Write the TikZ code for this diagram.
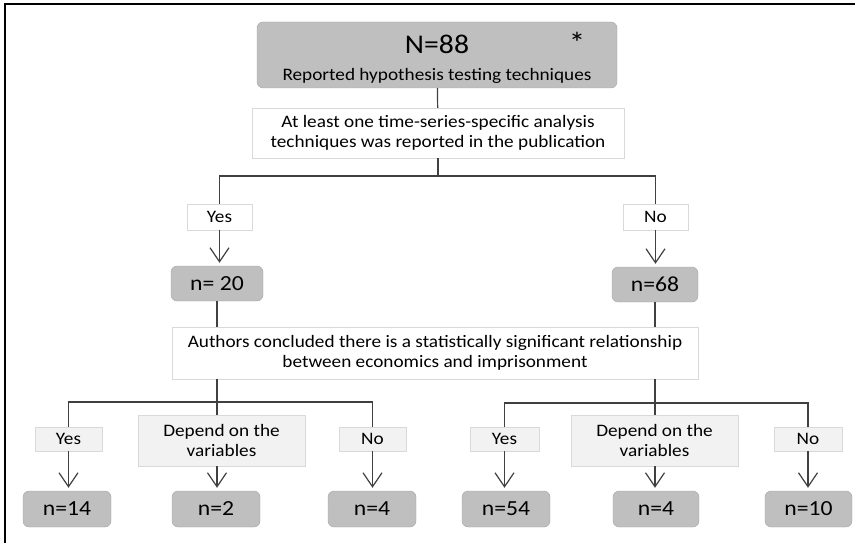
\documentclass[tikz,border=0pt]{standalone}
\usepackage{fontspec}
\setmainfont{Carlito}[FakeStretch=1.1]
\usetikzlibrary{arrows.meta}
\tikzset{
	numbox/.style={draw=black!35, fill=black!25, rounded corners=6pt, inner sep=0pt, font=\fontsize{21.5}{25}\selectfont},
	askbox/.style={draw=black!15, fill=white, align=center, inner sep=0pt, font=\fontsize{17.5}{20}\selectfont},
	ansbox/.style={draw=black!15, fill=black!5, align=center, inner sep=0pt, font=\fontsize{17.5}{20}\selectfont},
	link/.style={draw=black!75, line width=1.2pt},
	flow/.style={link, -{Straight Barb[length=14pt,width=19pt]}, shorten >=3pt},
}

\begin{document}
\begin{tikzpicture}[x=1pt, y=-1pt]
			%%%%% START %%%%%
			\useasboundingbox (0,0) rectangle (863,543);
			
			\draw[line width=2.5pt] (5,543) -- (5,4) -- (855,4);
			
			\node[numbox, minimum width=360pt, minimum height=66pt] (total) at (437,55) {};
			\node[font=\fontsize{27}{30}\selectfont, anchor=base] (totalN) at (437,54) {N=88};
			\node[font=\fontsize{17.5}{20}\selectfont, anchor=base] (totalsub) at (437,81) {Reported hypothesis testing techniques};
			\node[font=\fontsize{30}{30}\selectfont, anchor=base] (star) at (577,54) {*};
			
			\node[askbox, minimum width=372pt, minimum height=50pt] (tsq) at (438,133) {At least one time-series-specific analysis\\techniques was reported in the publication};
			\coordinate (tsfork) at (438,176);
			
			\node[askbox, minimum width=65pt, minimum height=26pt] (tsyes) at (219.5,217) {Yes};
			\node[askbox, minimum width=65pt, minimum height=26pt] (tsno) at (655.5,217) {No};
			
			\node[numbox, minimum width=92pt, minimum height=35pt] (n20) at (217,283.5) {n= 20};
			\node[numbox, minimum width=86pt, minimum height=35pt] (n68) at (655,284.5) {n=68};
			
			\node[askbox, minimum width=526pt, minimum height=52pt] (sigq) at (435,353) {Authors concluded there is a statistically significant relationship\\between economics and imprisonment};
			
			\coordinate (leftfork) at (217,402);
			\coordinate (rightfork) at (655,403);
			
			% left answers
			\node[ansbox, minimum width=67pt, minimum height=24pt] (lyes) at (68.5,439) {Yes};
			\node[ansbox, minimum width=167pt, minimum height=51pt] (ldep) at (221.5,440.5) {Depend on the\\variables};
			\node[ansbox, minimum width=67pt, minimum height=24pt] (lno) at (372.5,439) {No};
			
			\node[numbox, minimum width=88pt, minimum height=36pt] (n14) at (67,509) {n=14};
			\node[numbox, minimum width=88pt, minimum height=36pt] (n2) at (216,509) {n=2};
			\node[numbox, minimum width=88pt, minimum height=36pt] (n4l) at (372,509) {n=4};
			
			% right answers
			\node[ansbox, minimum width=69pt, minimum height=24pt] (ryes) at (504.5,439) {Yes};
			\node[ansbox, minimum width=167pt, minimum height=51pt] (rdep) at (654.5,440.5) {Depend on the\\variables};
			\node[ansbox, minimum width=68pt, minimum height=24pt] (rno) at (808,439) {No};
			
			\node[numbox, minimum width=88pt, minimum height=36pt] (n54) at (506,509) {n=54};
			\node[numbox, minimum width=86pt, minimum height=36pt] (n4r) at (656,509) {n=4};
			\node[numbox, minimum width=87pt, minimum height=36pt] (n10) at (808.5,509) {n=10};
			
			% connectors
			\draw[link] (total) -- (tsq);
			\draw[link] (tsq) -- (tsfork);
			\draw[link] (tsyes.north) |- (tsfork) -| (tsno.north);
			\draw[flow] (tsyes) -- (tsyes |- n20.north);
			\draw[flow] (tsno) -- (tsno |- n68.north);
			
			\draw[link] (n20) -- (n20 |- sigq.north);
			\draw[link] (n68) -- (n68 |- sigq.north);
			\draw[link] (leftfork |- sigq.south) -- (leftfork |- ldep.north);
			\draw[link] (rightfork |- sigq.south) -- (rightfork |- rdep.north);
			\draw[link] (lyes.north) |- (leftfork) -| (lno.north);
			\draw[link] (ryes.north) |- (rightfork) -| (rno.north);
			
			\draw[flow] (lyes) -- (lyes |- n14.north);
			\draw[flow] (leftfork |- ldep.south) -- (leftfork |- n2.north);
			\draw[flow] (lno) -- (lno |- n4l.north);
			\draw[flow] (ryes) -- (ryes |- n54.north);
			\draw[flow] (rightfork |- rdep.south) -- (rightfork |- n4r.north);
			\draw[flow] (rno) -- (rno |- n10.north);
			%%%%% END %%%%%
\end{tikzpicture}
\end{document}
